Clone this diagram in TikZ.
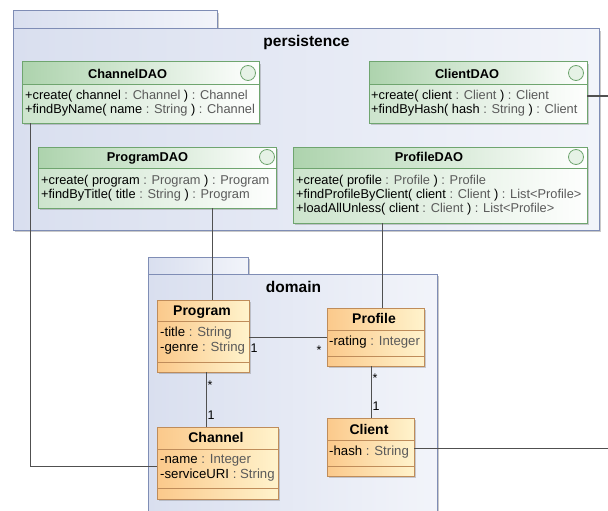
\documentclass[tikz,border=0pt]{standalone}
\usepackage{fontspec}
\setmainfont{Liberation Sans}
\usetikzlibrary{shadows}
\definecolor{pkgborder}{HTML}{7F8DB5}
\definecolor{pkgfill}{HTML}{D9DFEF}
\definecolor{pkgright}{HTML}{F2F4FA}
\definecolor{daoborder}{HTML}{6FA56F}
\definecolor{daohead}{HTML}{ADD3AD}
\definecolor{daobody}{HTML}{CDE4CD}
\definecolor{clsborder}{HTML}{BF8C5A}
\definecolor{clshead}{HTML}{FBC98B}
\definecolor{clslight}{HTML}{FFF3CC}
\definecolor{typegray}{HTML}{5A5A5A}
\definecolor{linegray}{HTML}{505050}
\newcommand\ty[1]{\textcolor{typegray}{#1}}
\newcommand\daobox[6]{%
  \node[daostyle, minimum width={#4pt-#2pt}, minimum height={#5pt-#3pt}] (#1) at (#2,#3) {};
  \fill[left color=daohead, right color=white] (#2,#3) rectangle (#4,#6);
  \draw[daoborder, line width=1pt] (#2,#6) -- (#4,#6) (#2,#3) rectangle (#4,#5);
}
\newcommand\clsbox[7]{%
  \node[clsstyle, minimum width={#4pt-#2pt}, minimum height={#5pt-#3pt}] (#1) at (#2,#3) {};
  \draw[clsborder, line width=1pt] (#2,#6) -- (#4,#6) (#2,#7) -- (#4,#7);
}
\begin{document}
\begin{tikzpicture}[x=1pt,y=-1pt,
  pkgstyle/.style={draw=pkgborder, line width=1pt, left color=pkgfill, right color=pkgright,
    anchor=north west, inner sep=0, outer sep=0,
    drop shadow={shadow xshift=2pt, shadow yshift=-2pt, opacity=0.35, fill=black!60}},
  pkgtitle/.style={inner sep=0, anchor=base, font=\bfseries\fontsize{15.5}{18}\selectfont},
  daostyle/.style={draw=daoborder, line width=1pt, left color=daobody, right color=white!97!daobody,
    anchor=north west, inner sep=0, outer sep=0,
    drop shadow={shadow xshift=2pt, shadow yshift=-2pt, opacity=0.3, fill=black!60}},
  clsstyle/.style={draw=clsborder, line width=1pt, left color=clshead, right color=clslight,
    anchor=north west, inner sep=0, outer sep=0,
    drop shadow={shadow xshift=2pt, shadow yshift=-2pt, opacity=0.3, fill=black!60}},
  ifc/.style={circle, draw=daoborder, line width=0.8pt, fill=daobody!50!white, minimum size=15pt, inner sep=0},
  ttl/.style={inner sep=0, anchor=base, font=\bfseries\fontsize{12.8}{14}\selectfont},
  txt/.style={inner sep=0, anchor=base west, font=\fontsize{12.8}{14}\selectfont},
  cttl/.style={inner sep=0, anchor=base, font=\bfseries\fontsize{14}{16}\selectfont},
  ctxt/.style={inner sep=0, anchor=base west, font=\fontsize{13.2}{15}\selectfont},
  mult/.style={inner sep=0, anchor=base, font=\fontsize{12.5}{14}\selectfont},
  conn/.style={draw=linegray, line width=1pt}]
\clip (0,0) rectangle (608,511);
\fill[white] (0,0) rectangle (608,511);
% persistence package
\node[pkgstyle, minimum width=204pt, minimum height=18pt] (ptab) at (13,11) {};
\node[pkgstyle, minimum width=586pt, minimum height=201pt] (pbody) at (13,29) {};
\node[pkgtitle] (ptitle) at (306.5,47) {persistence};
% domain package
\node[pkgstyle, minimum width=100pt, minimum height=17pt] (dtab) at (148,257) {};
\node[pkgstyle, minimum width=289pt, minimum height=260pt] (dbody) at (148,274) {};
\node[pkgtitle] (dtitle) at (293.5,292) {domain};
% coordinates for connectors
\coordinate (xcd) at (30,466);
\coordinate (xpg) at (212,0);
\coordinate (xpf) at (382,0);
\coordinate (ypp) at (0,337);
\coordinate (xpc) at (206,0);
\coordinate (xcl) at (371,0);
\coordinate (ecd) at (608,96);
\coordinate (ecl) at (608,448);
% DAO boxes
\daobox{channeldao}{22}{62}{259}{123}{85}
\daobox{clientdao}{369}{62}{587}{123}{85}
\daobox{programdao}{38}{147}{276}{208}{168}
\daobox{profiledao}{293}{147}{587}{223}{168}
% domain classes
\clsbox{program}{157}{300}{249}{372}{321}{362}
\clsbox{profile}{327}{308}{424}{366}{330}{356}
\clsbox{channel}{157}{427}{278}{499}{449}{488}
\clsbox{client}{327}{418}{414}{476}{440}{466}
% connectors
\draw[conn] (channeldao.south -| xcd) -- (xcd) -- (channel.west |- xcd);
\draw[conn] (programdao.south -| xpg) -- (program.north -| xpg);
\draw[conn] (profiledao.south -| xpf) -- (profile.north -| xpf);
\draw[conn] (program.east |- ypp) -- (profile.west |- ypp);
\draw[conn] (program.south -| xpc) -- (channel.north -| xpc);
\draw[conn] (profile.south -| xcl) -- (client.north -| xcl);
\draw[conn] (clientdao.east |- ecd) -- (ecd);
\draw[conn] (client.east |- ecl) -- (ecl);
% interface icons
\node[ifc] (channeldao-i) at (248,73) {};
\node[ifc] (clientdao-i) at (576,73) {};
\node[ifc] (programdao-i) at (267,157) {};
\node[ifc] (profiledao-i) at (576,157) {};
% ChannelDAO
\node[ttl] (channeldao-t) at (127.5,78) {ChannelDAO};
\node[txt] (channeldao-a) at (25,99.5) {+create( channel \ty{: Channel} ) \ty{: Channel}};
\node[txt] (channeldao-b) at (25,113.5) {+findByName( name \ty{: String} ) \ty{: Channel}};
% ClientDAO
\node[ttl] (clientdao-t) at (467,78) {ClientDAO};
\node[txt] (clientdao-a) at (371,99.5) {+create( client \ty{: Client} ) \ty{: Client}};
\node[txt] (clientdao-b) at (371,113.5) {+findByHash( hash \ty{: String} ) \ty{: Client}};
% ProgramDAO
\node[ttl] (programdao-t) at (147.5,161.5) {ProgramDAO};
\node[txt] (programdao-a) at (41,184.5) {+create( program \ty{: Program} ) \ty{: Program}};
\node[txt] (programdao-b) at (41,198.5) {+findByTitle( title \ty{: String} ) \ty{: Program}};
% ProfileDAO
\node[ttl] (profiledao-t) at (429,161.5) {ProfileDAO};
\node[txt] (profiledao-a) at (296,184.5) {+create( profile \ty{: Profile} ) \ty{: Profile}};
\node[txt] (profiledao-b) at (296,198.5) {+findProfileByClient( client \ty{: Client} ) \ty{: List<Profile>}};
\node[txt] (profiledao-c) at (296,212.5) {+loadAllUnless( client \ty{: Client} ) \ty{: List<Profile>}};
% Program
\node[cttl] (program-t) at (202,315.5) {Program};
\node[ctxt] (program-a) at (160,336.5) {-title \ty{: String}};
\node[ctxt] (program-b) at (160,351.5) {-genre \ty{: String}};
% Profile
\node[cttl] (profile-t) at (374,323.5) {Profile};
\node[ctxt] (profile-a) at (329,345.5) {-rating \ty{: Integer}};
% Channel
\node[cttl] (channel-t) at (216,442.5) {Channel};
\node[ctxt] (channel-a) at (160,463.5) {-name \ty{: Integer}};
\node[ctxt] (channel-b) at (160,478.5) {-serviceURI \ty{: String}};
% Client
\node[cttl] (client-t) at (369,434) {Client};
\node[ctxt] (client-a) at (329,455.5) {-hash \ty{: String}};
% multiplicities
\node[mult] (m1) at (254,352) {1};
\node[mult] (m2) at (319,354) {*};
\node[mult] (m3) at (210,389) {*};
\node[mult] (m4) at (211,419) {1};
\node[mult] (m5) at (375,382) {*};
\node[mult] (m6) at (376,410) {1};
\end{tikzpicture}
\end{document}
